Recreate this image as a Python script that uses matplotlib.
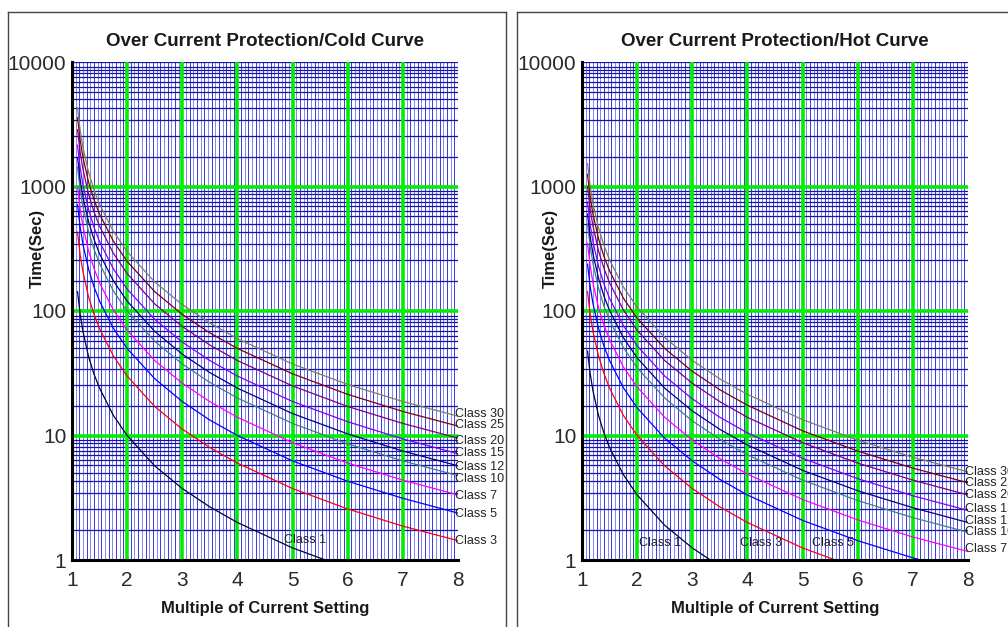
import numpy as np
import matplotlib.pyplot as plt
from matplotlib.lines import Line2D

plt.rcParams['font.family'] = ['Liberation Sans', 'DejaVu Sans']

mult = [1.1, 1.15, 1.2, 1.3, 1.4, 1.5, 1.75, 2, 2.5, 3, 3.5, 4, 5, 6, 7, 8]

classes = [1, 3, 5, 7, 10, 12, 15, 20, 25, 30]
class_colors = ['#000033', '#ff0000', '#0000ff', '#ff00ff', '#408080',
                '#000080', '#8000ff', '#800080', '#800000', '#808050']

# cold curve trip times (s)
cold_c1 = [143, 93, 68, 43, 31, 24, 14.5, 10, 5.7, 3.75, 2.67, 2.0, 1.25, 0.86, 0.62, 0.48]
cold_c3 = [429, 279, 205, 130, 94, 72, 43.6, 30, 17.1, 11.25, 8.0, 6.0, 3.75, 2.57, 1.87, 1.43]
cold_c5 = [714, 465, 341, 217, 156, 120, 72.7, 50, 28.6, 18.75, 13.3, 10.0, 6.25, 4.29, 3.13, 2.38]
cold_c7 = [1000, 651, 477, 304, 219, 168, 102, 70, 40, 26.3, 18.7, 14.0, 8.75, 6.0, 4.38, 3.33]
cold_c10 = [1429, 930, 682, 435, 313, 240, 145, 100, 57.1, 37.5, 26.7, 20, 12.5, 8.57, 6.25, 4.76]
cold_c12 = [1714, 1116, 818, 522, 375, 288, 175, 120, 68.6, 45, 32, 24, 15, 10.3, 7.5, 5.71]
cold_c15 = [2143, 1395, 1023, 652, 469, 360, 218, 150, 85.7, 56.3, 40, 30, 18.75, 12.9, 9.38, 7.14]
cold_c20 = [2857, 1861, 1364, 870, 625, 480, 291, 200, 114, 75, 53.3, 40, 25, 17.1, 12.5, 9.52]
cold_c25 = [3571, 2326, 1705, 1087, 781, 600, 364, 250, 143, 93.8, 66.7, 50, 31.3, 21.4, 15.6, 11.9]
cold_c30 = [4286, 2791, 2045, 1304, 938, 720, 436, 300, 171, 112.5, 80, 60, 37.5, 25.7, 18.75, 14.3]

# hot curve trip times (s)
hot_c1 = [47.6, 31, 22.7, 14.5, 10.4, 8.0, 4.85, 3.33, 1.9, 1.25, 0.89, 0.67, 0.42, 0.29, 0.21, 0.16]
hot_c3 = [143, 93, 68, 43.5, 31.3, 24, 14.5, 10, 5.7, 3.75, 2.67, 2.0, 1.25, 0.86, 0.62, 0.48]
hot_c5 = [238, 155, 114, 72.5, 52, 40, 24.2, 16.7, 9.5, 6.25, 4.44, 3.33, 2.08, 1.43, 1.04, 0.79]
hot_c7 = [350, 228, 167, 106, 76.6, 58.8, 35.6, 24.5, 14, 9.19, 6.53, 4.9, 3.06, 2.1, 1.53, 1.17]
hot_c10 = [500, 326, 239, 152, 109, 84, 50.9, 35, 20, 13.1, 9.33, 7.0, 4.38, 3.0, 2.19, 1.67]
hot_c12 = [600, 391, 286, 183, 131, 101, 61.1, 42, 24, 15.75, 11.2, 8.4, 5.25, 3.6, 2.63, 2.0]
hot_c15 = [750, 488, 358, 228, 164, 126, 76.4, 52.5, 30, 19.7, 14, 10.5, 6.56, 4.5, 3.28, 2.5]
hot_c20 = [1000, 651, 477, 304, 219, 168, 102, 70, 40, 26.3, 18.7, 14, 8.75, 6.0, 4.38, 3.33]
hot_c25 = [1250, 814, 597, 380, 273, 210, 127, 87.5, 50, 32.8, 23.3, 17.5, 10.9, 7.5, 5.47, 4.17]
hot_c30 = [1529, 995, 730, 465, 334, 257, 156, 107, 61.2, 40.1, 28.5, 21.4, 13.4, 9.17, 6.69, 5.1]

cold_curves = [cold_c1, cold_c3, cold_c5, cold_c7, cold_c10, cold_c12, cold_c15, cold_c20, cold_c25, cold_c30]
hot_curves = [hot_c1, hot_c3, hot_c5, hot_c7, hot_c10, hot_c12, hot_c15, hot_c20, hot_c25, hot_c30]

# labels at the right edge (class, y) and inside the plot (class, x, y)
cold_edge_labels = [(3, 1.42), (5, 2.34), (7, 3.27), (10, 4.47), (12, 5.58),
                    (15, 7.24), (20, 9.03), (25, 12.1), (30, 14.9)]
cold_inner_labels = [(1, 5.23, 1.45)]
hot_edge_labels = [(7, 1.23), (10, 1.68), (12, 2.06), (15, 2.57),
                   (20, 3.33), (25, 4.16), (30, 5.09)]
hot_inner_labels = [(1, 2.42, 1.37), (3, 4.24, 1.37), (5, 5.55, 1.37)]

y_ticks = [1, 10, 100, 1000, 10000]
x_ticks = [1, 2, 3, 4, 5, 6, 7, 8]
# spacing of the thin horizontal lines inside each decade
minor_y = [1.73, 2.56, 3.44, 4.29, 5.0, 5.75, 6.32, 6.95, 7.54, 8.13, 8.65, 9.2]

W, H = 1008, 627
fig = plt.figure(figsize=(W / 100, H / 100), dpi=100)


def draw_panel(x0, title, curves, edge_labels, inner_labels, ylab_x):
    ax = fig.add_axes([x0 / W, 1 - 560 / H, 386 / W, 498 / H])
    ax.set_yscale('log')
    ax.set_xlim(1, 8)
    ax.set_ylim(1, 10000)

    # grid paper
    xs = np.arange(1, 8.001, 1 / 15)
    for i, xv in enumerate(xs):
        ax.axvline(xv, color='#8484ff' if i % 2 else '#3a3ad6', lw=0.7, zorder=1)
    for dec in [1, 10, 100, 1000]:
        for m in minor_y:
            ax.axhline(m * dec, color='#1515a5', lw=0.9, zorder=1.5)
    ax.axhline(10000, color='#1515a5', lw=0.9, zorder=1.5)
    for xv in x_ticks[1:-1]:
        ax.axvline(xv, color='#00ee00', lw=2.6, zorder=2)
    for yv in y_ticks[1:-1]:
        ax.axhline(yv, color='#00ee00', lw=2.6, zorder=2)

    for cls, col, vals in zip(classes, class_colors, curves):
        ax.plot(mult, vals, color=col, lw=0.9, zorder=3)

    for cls, yv in edge_labels:
        ax.text(7.95, yv, f'Class {cls}', fontsize=9, color='#222222',
                ha='left', va='center', clip_on=False, zorder=4)
    for cls, xv, yv in inner_labels:
        ax.text(xv, yv, f'Class {cls}', fontsize=9, color='#222222',
                ha='center', va='center', zorder=4)

    ax.set_xticks(x_ticks)
    ax.set_xticklabels([str(v) for v in x_ticks])
    ax.set_yticks(y_ticks)
    ax.set_yticklabels([str(v) for v in y_ticks])
    ax.minorticks_off()
    ax.tick_params(length=0, labelsize=15, labelcolor='#2a2a2a')
    ax.tick_params(axis='x', pad=8)
    ax.tick_params(axis='y', pad=4)
    for s in ['top', 'right']:
        ax.spines[s].set_visible(False)
    for s in ['left', 'bottom']:
        ax.spines[s].set_linewidth(2.2)
        ax.spines[s].set_color('black')
        ax.spines[s].set_zorder(5)

    cx = (x0 + 193) / W
    fig.text(cx, 1 - 41 / H, title, ha='center', va='center',
             fontsize=13.5, fontweight='bold', color='#1a1a1a')
    fig.text(cx, 1 - 608 / H, 'Multiple of Current Setting', ha='center', va='center',
             fontsize=12, fontweight='bold', color='#1a1a1a')
    fig.text(ylab_x / W, 1 - 248 / H, 'Time(Sec)', ha='center', va='center',
             rotation=90, fontsize=12, fontweight='bold', color='#1a1a1a')
    return ax


draw_panel(72, 'Over Current Protection/Cold Curve', cold_curves,
           cold_edge_labels, cold_inner_labels, 37)
draw_panel(582, 'Over Current Protection/Hot Curve', hot_curves,
           hot_edge_labels, hot_inner_labels, 550)

# frames round the two panels
box = dict(color='#444444', lw=1.0, transform=fig.transFigure)
for (xa, ya, xb, yb) in [(8, 12, 8, 627), (8, 12, 506, 12), (506, 12, 506, 627),
                         (517, 12, 517, 627), (517, 12, 1008, 12)]:
    fig.add_artist(Line2D([xa / W, xb / W], [1 - ya / H, 1 - yb / H], **box))

fig.savefig('out.png', dpi=100)
